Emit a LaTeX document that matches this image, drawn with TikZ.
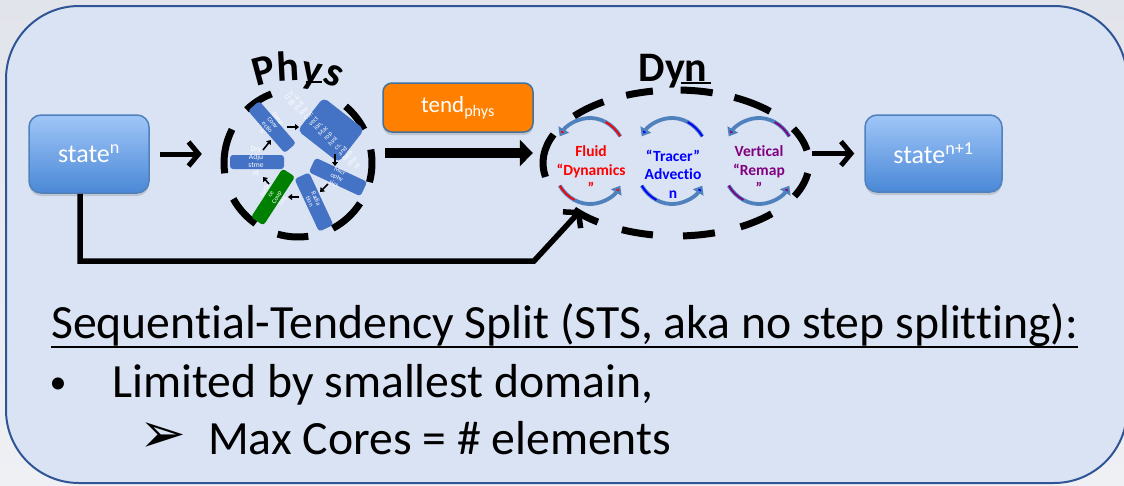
\documentclass[tikz,border=0pt]{standalone}
\usepackage{fontspec}
\setmainfont{Carlito}[Ligatures={NoCommon}]
\newfontfamily\dejavu{DejaVu Sans}
\usetikzlibrary{arrows.meta,shapes.geometric,shadows,calc}

\definecolor{bgtop}{HTML}{E2E4EB}
\definecolor{bgbot}{HTML}{EFF0F4}
\definecolor{panel}{HTML}{DAE3F3}
\definecolor{panelborder}{HTML}{2F5597}
\definecolor{stTop}{HTML}{A0C6F8}
\definecolor{stBot}{HTML}{4A88D6}
\definecolor{stBorder}{HTML}{4F81BD}
\definecolor{pblue}{HTML}{4472C4}
\definecolor{pgreen}{HTML}{008000}
\definecolor{tendorange}{HTML}{FF8000}
\definecolor{tendborder}{HTML}{41719C}
\definecolor{caout}{HTML}{4F81BD}
\definecolor{fluidred}{HTML}{FF0000}
\definecolor{tracerblue}{HTML}{0000FF}
\definecolor{remappurple}{HTML}{800080}

\newcommand{\dynloop}[3]{%
  \draw[caout, line width=3.8pt, -{Triangle[length=8pt,width=12pt,fill=#3]}]
    (#1,#2) ++(-35:37 and 43) arc[start angle=-35, end angle=-145, x radius=37, y radius=43];
  \draw[#3, line width=1.8pt]
    (#1,#2) ++(-35:37 and 43) arc[start angle=-35, end angle=-65, x radius=37, y radius=43];
  \draw[caout, line width=3.8pt, -{Triangle[length=8pt,width=12pt,fill=#3]}]
    (#1,#2) ++(145:37 and 43) arc[start angle=145, end angle=35, x radius=37, y radius=43];
  \draw[#3, line width=1.8pt]
    (#1,#2) ++(145:37 and 43) arc[start angle=145, end angle=115, x radius=37, y radius=43];
}

\begin{document}
\begin{tikzpicture}[x=1pt,y=-1pt,
  statebox/.style={rounded corners=12pt, draw=stBorder, line width=1.5pt,
    top color=stTop, bottom color=stBot, text=white,
    font=\fontsize{26}{30}\selectfont,
    drop shadow={opacity=0.3, shadow xshift=0pt, shadow yshift=-3pt}},
  tendbox/.style={rounded corners=9pt, draw=tendborder, line width=1.5pt,
    fill=tendorange, text=white, font=\fontsize{23}{27}\selectfont,
    drop shadow={opacity=0.3, shadow xshift=0pt, shadow yshift=-3pt}},
  pbox/.style={rounded corners=3pt, fill=pblue, inner sep=0pt},
  gbox/.style={rounded corners=3pt, fill=pgreen, inner sep=0pt},
  ptext/.style={text=white, font=\fontsize{6.5}{7}\selectfont, align=center, inner sep=0pt},
  sarrow/.style={line width=1.6pt, -{Triangle[length=4pt,width=6pt]}},
  openarrow/.style={line width=5pt, -{Straight Barb[length=10pt,width=24pt]}},
  tendarrow/.style={line width=10pt, -{Triangle[length=13pt,width=26pt]}},
  dashseg/.style={line width=7pt, black},
  physletter/.style={font=\bfseries\fontsize{42}{48}\selectfont, inner sep=0pt},
  dyntxt/.style={font=\bfseries\fontsize{15.5}{18.5}\selectfont, align=center, inner sep=0pt},
  bigtext/.style={font=\fontsize{47.7}{57}\selectfont, inner sep=0pt}
]
\useasboundingbox (0,0) rectangle (1124,485);
\fill[top color=bgtop, bottom color=bgbot] (0,0) rectangle (1124,485);
\draw[fill=panel, draw=panelborder, line width=2pt, rounded corners=73pt] (6,6) rectangle (1127,483);

% state boxes
\node[statebox, minimum width=120pt, minimum height=78pt] (s1) at (89,154) {state\textsuperscript{n}};
\node[statebox, minimum width=137pt, minimum height=77pt] (s2) at (933.5,153.5) {state\textsuperscript{n+1}};

% tend box
\node[tendbox, minimum width=150pt, minimum height=49pt] (tend) at (458,107.5) {tend\textsubscript{phys}};

% Phys circle
\node[circle, minimum size=148pt, inner sep=0pt] (physc) at (298,163) {};
\foreach \a/\b in {345/370.5, 27/50, 111/134, 153/188, 209/235, 254/278, 298/327}
  \draw[dashseg] (physc.center) ++(-\a:74) arc[start angle=-\a, end angle=-\b, radius=74];

% Phys inner process boxes
\node[pbox, minimum width=56pt, minimum height=15pt, rotate=-49] (deep) at (272,127) {};
\node[pbox, minimum width=52pt, minimum height=42pt, rotate=-38, rounded corners=5pt] (clubb) at (331,130) {};
\node[pbox, minimum width=57pt, minimum height=16pt, rotate=-25] (micro) at (338,177) {};
\node[pbox, minimum width=58pt, minimum height=16pt, rotate=-65] (radia) at (314,202) {};
\node[gbox, minimum width=58pt, minimum height=15pt, rotate=57] (surf) at (273,197) {};
\node[pbox, minimum width=54pt, minimum height=14pt] (dry) at (257,162) {};

\node[ptext, rotate=-50] (deeptxt) at (270,125) {Deep\\Conv\\ectio\\n};
\node[ptext, rotate=44] (clubbtxt) at (323,131) {CLU\\BB \&\\Shal\\low\\Con\\vect\\ion,\\Mac\\rop\\hysi\\cs,\\and\\Turb\\ulen\\ce};
\node[ptext, rotate=-25] (microtxt) at (337,177) {Micr\\ophy\\sics};
\node[ptext, rotate=-65] (radiatxt) at (313,200) {Radia\\tion};
\node[ptext, rotate=60] (surftxt) at (274,196) {Surfa\\ce\\Coup\\ling};
\node[ptext, font=\fontsize{7.5}{8}\selectfont] (drytxt) at (256,161) {Dry\\Adju\\stme\\nt};

% small cycle arrows
\coordinate (a1s) at (287,127); \coordinate (a1e) at (299,127);
\coordinate (a2s) at (335,154); \coordinate (a2e) at (335,166);
\coordinate (a3s) at (328,184); \coordinate (a3e) at (320,192);
\coordinate (a4s) at (299,197); \coordinate (a4e) at (288,197);
\coordinate (a5s) at (269,184); \coordinate (a5e) at (263,177);
\coordinate (a6s) at (263,150); \coordinate (a6e) at (271,140);
\draw[sarrow] (a1s) -- (a1e);
\draw[sarrow] (a2s) -- (a2e);
\draw[sarrow] (a3s) -- (a3e);
\draw[sarrow] (a4s) -- (a4e);
\draw[sarrow] (a5s) -- (a5e);
\draw[sarrow] (a6s) -- (a6e);

% Phys title
\node[physletter, rotate=15] (pP) at (264,70) {P};
\node[physletter, rotate=3] (ph) at (288,66) {h};
\node[physletter, rotate=-10] (py) at (311,76) {y};
\node[physletter, rotate=-25] (ps) at (333,76) {s};
\draw[line width=2pt] (306,82) -- (322,82);

% Dyn ellipse
\node[ellipse, minimum width=266pt, minimum height=146pt, inner sep=0pt] (dyn) at (676,163) {};
\foreach \a/\b in {157/191, 123/140, 100/112, 74/88, 45/64, 10/28, 333/352, 299/316, 273/287, 246/260, 220/234}
  \draw[dashseg] (dyn.center) ++(-\a:133 and 73) arc[start angle=-\a, end angle=-\b, x radius=133, y radius=73];

\node[font=\bfseries\fontsize{42}{48}\selectfont, inner sep=0pt] (dyntitle) at (673,71.5) {Dyn};
\draw[line width=2.2pt] (681,83) -- (711,83);

% Dyn loops
\dynloop{590}{161}{fluidred}
\dynloop{672}{161}{tracerblue}
\dynloop{759}{161}{remappurple}
\node[dyntxt, text=fluidred] (fluid) at (591,170) {Fluid\\“Dynamics\\”};
\node[dyntxt, text=tracerblue] (tracer) at (673,174) {“Tracer”\\Advectio\\n};
\node[dyntxt, text=remappurple] (vertical) at (759,170) {Vertical\\“Remap\\”};

% main connectors
\draw[openarrow, shorten <=10pt, shorten >=22pt] (s1.east) -- (s1.east -| physc.west);
\draw[tendarrow, shorten <=13pt, shorten >=10pt] ([yshift=10pt]physc.east) -- ([yshift=10pt]dyn.west);
\draw[openarrow, shorten <=3pt, shorten >=10pt] (s2.west -| dyn.east) -- (s2.west);
\coordinate (bypassturn) at (534,261);
\coordinate (bypasstip) at (581,210);
\draw[openarrow, line width=5.5pt] ([xshift=-9pt]s1.south) |- (bypassturn) -- (bypasstip);

% bottom text
\node[bigtext, anchor=base west] (head) at (51,338) {Sequential-Tendency Split (STS, aka no step splitting):};
\draw[line width=2.2pt] ([yshift=-9pt]head.base west) -- ([yshift=-9pt]head.base east);
\node[font=\fontsize{34}{40}\selectfont, inner sep=0pt, anchor=base] (bul) at (58,393) {•};
\node[bigtext, anchor=base west] (l2) at (112,397) {Limited by smallest domain,};
\node[font=\dejavu\fontsize{56}{60}\selectfont, inner sep=0pt] (arrb) at (163,438) {➢};
\node[bigtext, anchor=base west] (l3) at (208,454) {Max Cores = \# elements};
\end{tikzpicture}
\end{document}
